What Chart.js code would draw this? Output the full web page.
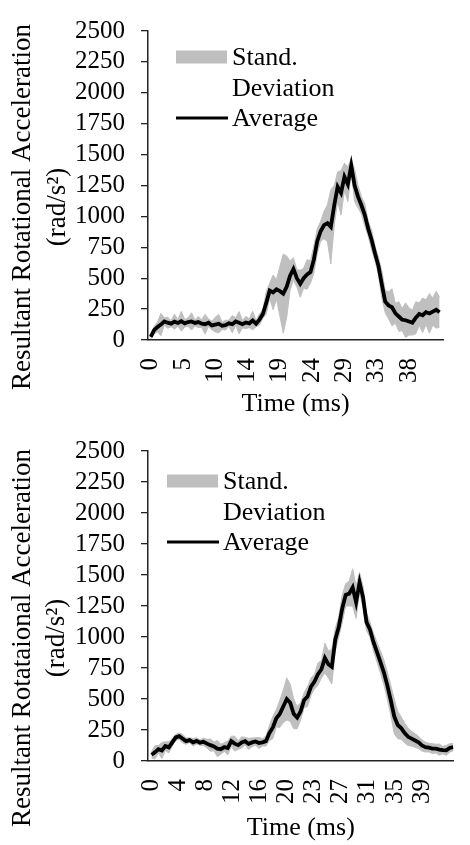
<!DOCTYPE html>
<html>
<head>
<meta charset="utf-8">
<script src="https://cdn.jsdelivr.net/npm/chart.js@4.4.0/dist/chart.umd.min.js"></script>
<style>
  body { margin: 0; background: #fff; }
  canvas { position: absolute; left: 0; }
  #chartTop { top: 0; }
  #chartBottom { top: 420px; }
</style>
</head>
<body>
<canvas id="chartTop" width="470" height="420"></canvas>
<canvas id="chartBottom" width="470" height="425"></canvas>
<script>
// valeurs (ms, rad/s²)
const timeTop = [0,0.5,1,1.5,2,2.5,3,3.5,4,4.5,5,5.5,6,6.5,7,7.5,8,8.5,9,9.5,10,10.5,11,11.5,12,12.5,13,13.5,14,14.5,
  15,15.5,16,16.5,17,17.5,18,18.5,19,19.5,20,20.5,21,21.5,22,22.5,23,23.5,24,24.5,25,25.5,26,26.5,27,27.5,28,28.5,29,29.5,
  30,30.5,31,31.5,32,32.5,33,33.5,34,34.5,35,35.5,36,36.5,37,37.5,38,38.5,39,39.5,40,40.5,41,41.5,42,42.5];
const avgTop = [25,80,105,125,150,140,132,148,138,152,
  135,145,150,138,145,132,128,140,118,125,
  132,115,120,135,128,150,140,128,142,135,
  158,132,165,210,300,400,385,410,395,375,
  430,520,575,500,455,500,530,550,650,800,
  880,930,945,915,1090,1240,1190,1320,1260,1410,
  1250,1160,1090,1010,900,810,700,600,450,310,
  280,265,215,190,165,160,150,140,180,210,
  200,225,215,230,245,225];
const sdTop = [15,30,40,90,30,45,25,60,25,80,
  30,35,70,25,45,30,80,30,35,60,
  75,30,40,25,70,30,90,30,50,35,
  75,25,45,35,90,60,140,80,200,320,
  250,120,90,70,110,80,120,90,110,100,
  80,110,150,300,160,120,180,110,140,60,
  130,90,70,90,60,80,60,70,110,90,
  110,150,80,120,90,140,110,100,130,90,
  140,100,160,110,150,120];
const tickTimesTop = [0, 4.75, 9.5, 14.25, 19, 23.75, 28.5, 33.25, 38];
const tickLabelsTop = ['0','5','10','14','19','24','29','33','38'];

const timeBottom = [0,0.5,1,1.5,2,2.5,3,3.5,4,4.5,5,5.5,6,6.5,7,7.5,8,8.5,9,9.5,10,10.5,11,11.5,12,12.5,13,13.5,14,14.5,
  15,15.5,16,16.5,17,17.5,18,18.5,19,19.5,20,20.5,21,21.5,22,22.5,23,23.5,24,24.5,25,25.5,26,26.5,27,27.5,28,28.5,29,29.5,
  30,30.5,31,31.5,32,32.5,33,33.5,34,34.5,35,35.5,36,36.5,37,37.5,38,38.5,39,39.5,40,40.5,41,41.5,42,42.5,43,43.5];
const avgBottom = [50,70,95,85,120,110,150,190,200,180,
  160,168,150,162,148,155,140,128,118,100,
  95,112,105,160,140,128,150,160,138,150,
  158,145,150,160,225,270,345,380,440,500,
  470,380,350,400,490,520,600,640,700,740,
  830,780,760,980,1080,1230,1340,1350,1400,1280,
  1440,1320,1120,1060,960,880,800,715,610,490,
  360,290,265,225,195,180,165,150,125,112,
  108,100,100,92,88,86,105,112];
const sdBottom = [25,55,30,65,35,45,30,25,25,35,
  25,20,30,25,22,30,35,50,35,65,
  40,35,55,40,60,35,45,30,45,35,
  30,45,30,40,60,90,70,110,130,170,
  150,120,90,70,60,80,70,60,90,70,
  120,110,140,90,80,110,90,100,150,130,
  80,90,70,60,70,80,90,100,110,120,
  140,110,90,80,70,60,55,50,45,40,
  35,40,35,45,30,40,35,30];
const tickTimesBottom = [0, 3.9, 7.8, 11.7, 15.6, 19.5, 23.4, 27.3, 31.2, 35.1, 39];
const tickLabelsBottom = ['0','4','8','12','16','20','23','27','31','35','39'];

const bandColor = '#bfbfbf';
const serif = '"Liberation Serif", "Times New Roman", serif';

// titre de l'axe y et légende dessinés à la main
const decor = {
  id: 'decor',
  afterDraw(chart, args, opts) {
    const ctx = chart.ctx;
    ctx.save();
    ctx.fillStyle = '#000';
    ctx.textAlign = 'center';
    ctx.textBaseline = 'middle';
    ctx.font = '27px ' + serif;
    opts.yTitle.forEach((line, i) => {
      ctx.save();
      ctx.translate(opts.yTitleX[i], opts.yTitleY);
      ctx.rotate(-Math.PI / 2);
      ctx.fillText(line, 0, 0);
      ctx.restore();
    });

    const lx = opts.legendX, ly = opts.legendY;
    ctx.fillStyle = bandColor;
    ctx.fillRect(lx, ly - 6.5, 51, 13);
    ctx.strokeStyle = '#000';
    ctx.lineWidth = 3;
    ctx.beginPath();
    ctx.moveTo(lx, ly + 61);
    ctx.lineTo(lx + 52, ly + 61);
    ctx.stroke();
    ctx.fillStyle = '#000';
    ctx.textAlign = 'left';
    ctx.font = '26px ' + serif;
    ctx.fillText('Stand.', lx + 56, ly + 1);
    ctx.fillText('Deviation', lx + 56, ly + 32);
    ctx.fillText('Average', lx + 56, ly + 62);
    ctx.restore();
  }
};

function makeChart(id, time, avg, sd, tickTimes, tickLabels, p) {
  const avgPts = time.map((t, i) => ({x: t, y: avg[i]}));
  const upPts = time.map((t, i) => ({x: t, y: avg[i] + sd[i]}));
  const lowPts = time.map((t, i) => ({x: t, y: avg[i] - sd[i]}));

  return new Chart(document.getElementById(id), {
    type: 'line',
    data: {
      datasets: [
        {label: 'Average', data: avgPts, borderColor: '#000', borderWidth: 3.8, pointRadius: 0, fill: false},
        {label: 'up', data: upPts, borderColor: bandColor, borderWidth: 1, pointRadius: 0, fill: false},
        {label: 'low', data: lowPts, borderColor: bandColor, borderWidth: 1, pointRadius: 0,
          fill: '-1', backgroundColor: bandColor}
      ]
    },
    options: {
      responsive: false,
      animation: false,
      devicePixelRatio: 1,
      layout: {padding: {top: p.top, right: p.right, left: 0, bottom: 0}},
      plugins: {
        legend: {display: false},
        tooltip: {enabled: false},
        decor: p.decor
      },
      scales: {
        x: {
          type: 'linear',
          min: p.xmin,
          max: p.xmax,
          afterFit: s => { s.height = p.xh; },
          afterBuildTicks: s => { s.ticks = tickTimes.map(v => ({value: v})); },
          grid: {display: true, drawOnChartArea: false, drawTicks: false},
          border: {display: true, color: '#222', width: 1.5},
          ticks: {
            autoSkip: false, minRotation: 90, maxRotation: 90, padding: 18,
            color: '#000', font: {family: serif, size: 25},
            callback: (v, i) => tickLabels[i]
          },
          title: {display: true, text: 'Time (ms)', color: '#000',
            font: {family: serif, size: 26}, padding: {top: 0, bottom: p.titlePad}}
        },
        y: {
          min: 0,
          max: 2500,
          afterFit: s => { s.width = 148; },
          grid: {display: true, drawOnChartArea: false, drawTicks: true, tickLength: 7, color: '#222', lineWidth: 1.3},
          border: {display: true, color: '#222', width: 1.5},
          ticks: {stepSize: 250, autoSkip: false, padding: 16, color: '#000', font: {family: serif, size: 25},
            callback: v => String(v)}
        }
      }
    },
    plugins: [decor]
  });
}

makeChart('chartTop', timeTop, avgTop, sdTop, tickTimesTop, tickLabelsTop, {
  top: 20, right: 27, xmin: -0.4, xmax: 43, xh: 80, titlePad: 0,
  decor: {yTitle: ['Resultant Rotational Acceleration', '(rad/s²)'], yTitleX: [23, 58], yTitleY: 207,
    legendX: 176, legendY: 57}
});

makeChart('chartBottom', timeBottom, avgBottom, sdBottom, tickTimesBottom, tickLabelsBottom, {
  top: 22, right: 0, xmin: -0.5, xmax: 43.55, xh: 84, titlePad: 1.4,
  decor: {yTitle: ['Resultant Rotataional Acceleration', '(rad/s²)'], yTitleX: [23, 57], yTitleY: 218,
    legendX: 167, legendY: 61}
});
</script>
</body>
</html>
